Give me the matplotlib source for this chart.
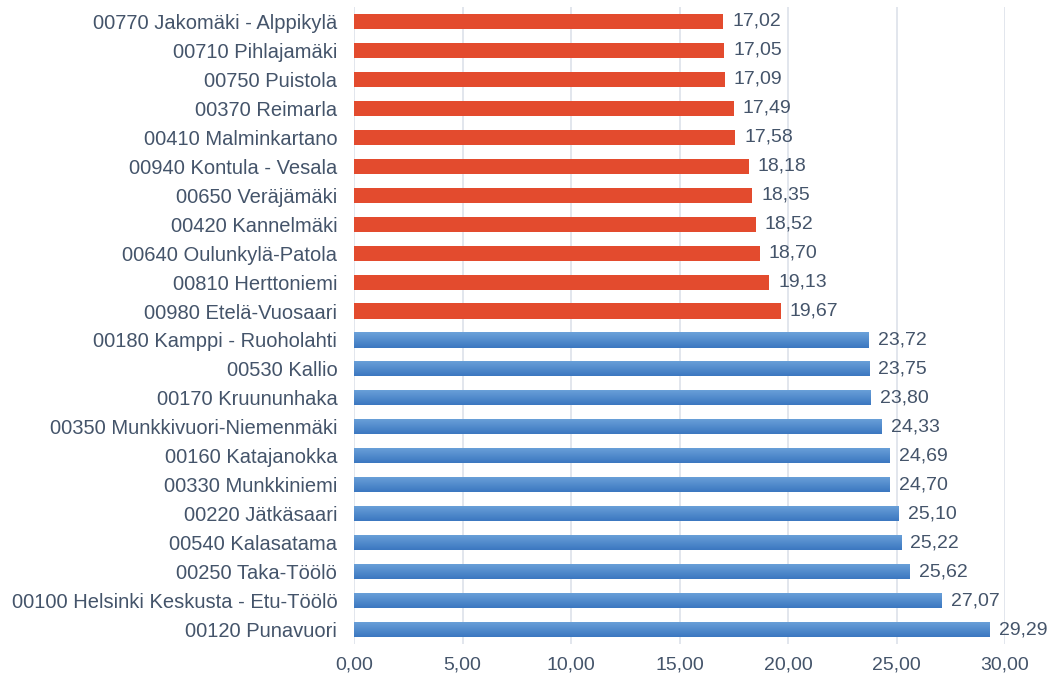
import matplotlib
matplotlib.use("Agg")
import matplotlib.pyplot as plt
import numpy as np
from matplotlib.colors import LinearSegmentedColormap

plt.rcParams['font.family'] = ['Liberation Sans', 'DejaVu Sans']

categories = [
    "00770 Jakomäki - Alppikylä", "00710 Pihlajamäki", "00750 Puistola", "00370 Reimarla",
    "00410 Malminkartano", "00940 Kontula - Vesala", "00650 Veräjämäki", "00420 Kannelmäki",
    "00640 Oulunkylä-Patola", "00810 Herttoniemi", "00980 Etelä-Vuosaari",
    "00180 Kamppi - Ruoholahti", "00530 Kallio", "00170 Kruununhaka",
    "00350 Munkkivuori-Niemenmäki", "00160 Katajanokka", "00330 Munkkiniemi",
    "00220 Jätkäsaari", "00540 Kalasatama", "00250 Taka-Töölö",
    "00100 Helsinki Keskusta - Etu-Töölö", "00120 Punavuori",
]
values = [17.02, 17.05, 17.09, 17.49, 17.58, 18.18, 18.35, 18.52, 18.70, 19.13, 19.67,
          23.72, 23.75, 23.80, 24.33, 24.69, 24.70, 25.10, 25.22, 25.62, 27.07, 29.29]
group = ["low"] * 11 + ["high"] * 11
xticks = [0, 5, 10, 15, 20, 25, 30]

text_color = "#44546A"
red = "#E34B2E"
blue_cmap = LinearSegmentedColormap.from_list("bg", ["#6CA2DA", "#3B77C0"])

fig = plt.figure(figsize=(10.52, 6.8), dpi=100)
ax = fig.add_axes([354/1052, 36/680, (1005-354)/1052, (673-36)/680])

y = np.arange(len(categories))
bars = ax.barh(y, values, height=0.52, color=[red if g == "low" else "#4F8BCD" for g in group], zorder=3)

grad = np.linspace(0, 1, 256).reshape(-1, 1)
for b, g in zip(bars, group):
    if g == "high":
        x0, y0 = b.get_x(), b.get_y()
        w, h = b.get_width(), b.get_height()
        im = ax.imshow(grad, cmap=blue_cmap, aspect='auto', origin='upper',
                       extent=[x0, x0 + w, y0 + h, y0], zorder=4)
        im.set_clip_path(b)

for yi, v in zip(y, values):
    ax.text(v + 0.42, yi, f"{v:.2f}".replace(".", ","), va="center", ha="left",
            fontsize=14, color=text_color, clip_on=False, zorder=5)

ax.set_xlim(0, 30)
ax.set_ylim(len(categories) - 0.5, -0.5)
ax.set_yticks(y)
ax.set_yticklabels(categories, fontsize=14.5, color=text_color)
ax.set_xticks(xticks)
ax.set_xticklabels([f"{t:.2f}".replace(".", ",") for t in xticks], fontsize=14, color=text_color)
ax.tick_params(axis='both', length=0)
ax.tick_params(axis='y', pad=12)
ax.tick_params(axis='x', pad=9)
for s in ax.spines.values():
    s.set_visible(False)
ax.grid(axis='x', color="#DDE2EA", linewidth=1.2, zorder=0)
ax.set_axisbelow(True)

fig.savefig("out.png", dpi=100)
